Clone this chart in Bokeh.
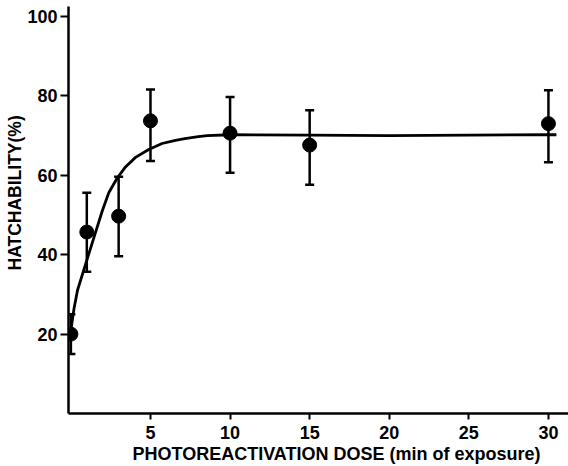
from bokeh.plotting import figure
from bokeh.models import Range1d, FixedTicker, Whisker, ColumnDataSource, TeeHead, Title
from bokeh.embed import file_html
from bokeh.resources import INLINE

# data
dose = [0, 1, 3, 5, 10, 15, 30]
hatchability = [20, 45.7, 49.7, 73.7, 70.6, 67.6, 73.0]
err_lower = [15.0, 35.7, 39.6, 63.6, 60.6, 57.6, 63.3]
err_upper = [25.0, 55.6, 59.6, 81.6, 79.7, 76.4, 81.4]

# fitted curve
curve_x = [0, 0.2, 0.42, 0.94, 1.46, 1.97, 2.38, 2.91, 3.43, 4.06, 4.89, 5.73, 6.57, 7.16, 8.0, 8.56, 10, 15, 20, 25, 30, 30.5]
curve_y = [21.0, 26.5, 31.1, 37.8, 44.5, 51.0, 55.6, 59.3, 62.1, 64.5, 66.5, 68.0, 68.8, 69.2, 69.7, 70.0, 70.2, 70.1, 70.0, 70.1, 70.2, 70.2]

x_ticks = [5, 10, 15, 20, 25, 30]
y_ticks = [20, 40, 60, 80, 100]

x_title = "PHOTOREACTIVATION DOSE (min of exposure)"
y_title = "HATCHABILITY(%)"

FONT = "Liberation Sans"

p = figure(width=568, height=466, output_backend="svg", toolbar_location=None,
           x_range=Range1d(-0.15, 31.26), y_range=Range1d(0, 102.5),
           min_border_left=68, min_border_right=0, min_border_top=6, min_border_bottom=53)
p.outline_line_color = None
p.xgrid.visible = False
p.ygrid.visible = False
p.background_fill_color = "white"
p.border_fill_color = "white"

src = ColumnDataSource(dict(x=dose, y=hatchability, lo=err_lower, hi=err_upper))

p.line(curve_x, curve_y, line_color="black", line_width=2.8, line_join="round")

wh = Whisker(base="x", lower="lo", upper="hi", source=src, line_color="black", line_width=2.5,
             upper_head=TeeHead(size=9, line_color="black", line_width=2.5),
             lower_head=TeeHead(size=9, line_color="black", line_width=2.5))
p.add_layout(wh)

p.scatter("x", "y", source=src, size=14, fill_color="black", line_color="black")

for ax in (p.xaxis[0], p.yaxis[0]):
    ax.axis_line_width = 2.5
    ax.axis_line_color = "black"
    ax.major_tick_line_width = 2
    ax.major_tick_line_color = "black"
    ax.major_tick_in = 0
    ax.minor_tick_line_color = None
    ax.major_label_text_font = FONT
    ax.major_label_text_font_style = "bold"
    ax.major_label_text_font_size = "18px"
    ax.major_label_text_color = "black"

p.xaxis.major_tick_out = 6
p.yaxis.major_tick_out = 8
p.xaxis.ticker = FixedTicker(ticks=x_ticks)
p.yaxis.ticker = FixedTicker(ticks=y_ticks)
p.xaxis.major_label_standoff = 6
p.yaxis.major_label_standoff = 3

p.add_layout(Title(text=x_title, align="left", offset=64, standoff=0,
                   text_font=FONT, text_font_size="18px", text_font_style="bold",
                   text_color="black"), "below")
p.add_layout(Title(text=y_title, align="left", offset=143, standoff=0,
                   text_font=FONT, text_font_size="17.5px", text_font_style="bold",
                   text_color="black"), "left")

open("out.html", "w").write(file_html(p, INLINE))
